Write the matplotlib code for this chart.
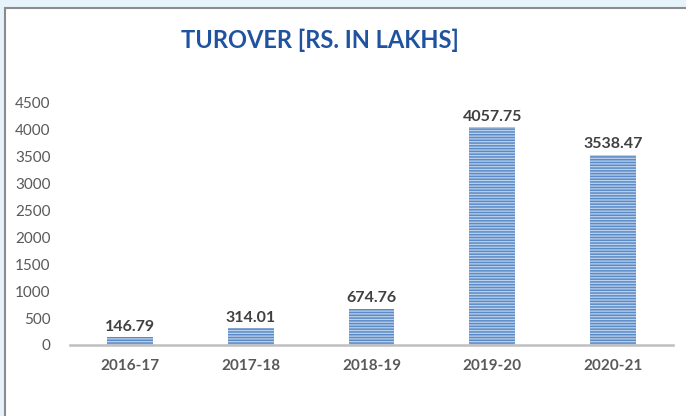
import matplotlib

matplotlib.use("Agg")
import matplotlib.pyplot as plt
from matplotlib.patches import Rectangle

years = ["2016-17", "2017-18", "2018-19", "2019-20", "2020-21"]
turnover = [146.79, 314.01, 674.76, 4057.75, 3538.47]
y_ticks = [0, 500, 1000, 1500, 2000, 2500, 3000, 3500, 4000, 4500]

plt.rcParams["font.family"] = ["Lato", "DejaVu Sans"]
plt.rcParams["hatch.linewidth"] = 1.1

W, H = 686, 416
fig = plt.figure(figsize=(W / 100, H / 100), dpi=100, facecolor="#e6f3fb")

# white card with grey border, kept behind the axes
card = Rectangle((5 / W, -0.02), 1, 1.02 - 8 / H, transform=fig.transFigure,
                 facecolor="white", edgecolor="#8c8c8c", linewidth=1.5, zorder=-5)
fig.patches.append(card)

ax = fig.add_axes([70 / W, 71 / H, 603 / W, 242 / H])
ax.set_facecolor("none")
ax.set_zorder(1)

x = range(len(years))
bars = ax.bar(x, turnover, width=0.38, color="#bcd1ec", edgecolor="#5b8bc7",
              hatch="------", linewidth=0)

for b, v in zip(bars, turnover):
    ax.text(b.get_x() + b.get_width() / 2, v + 60, f"{v:.2f}", ha="center", va="bottom",
            fontsize=11.5, fontweight="bold", color="#404040")

ax.set_xlim(-0.5, len(years) - 0.5)
ax.set_ylim(0, 4500)
ax.set_yticks(y_ticks)
ax.set_yticklabels([str(t) for t in y_ticks], fontsize=11, color="#595959")
ax.set_xticks(list(x))
ax.set_xticklabels(years, fontsize=11, fontweight="bold", color="#595959")
ax.tick_params(length=0)
ax.tick_params(axis="y", pad=14)
ax.tick_params(axis="x", pad=10)

for s in ["top", "right", "left"]:
    ax.spines[s].set_visible(False)
ax.spines["bottom"].set_color("#bfbfbf")
ax.spines["bottom"].set_linewidth(1.8)

fig.text(320 / W, 1 - 40 / H, "TUROVER [RS. IN LAKHS]", ha="center", va="center",
         fontsize=17, fontweight="bold", color="#1f53a0")

fig.savefig("out.png", dpi=100, facecolor=fig.get_facecolor())
